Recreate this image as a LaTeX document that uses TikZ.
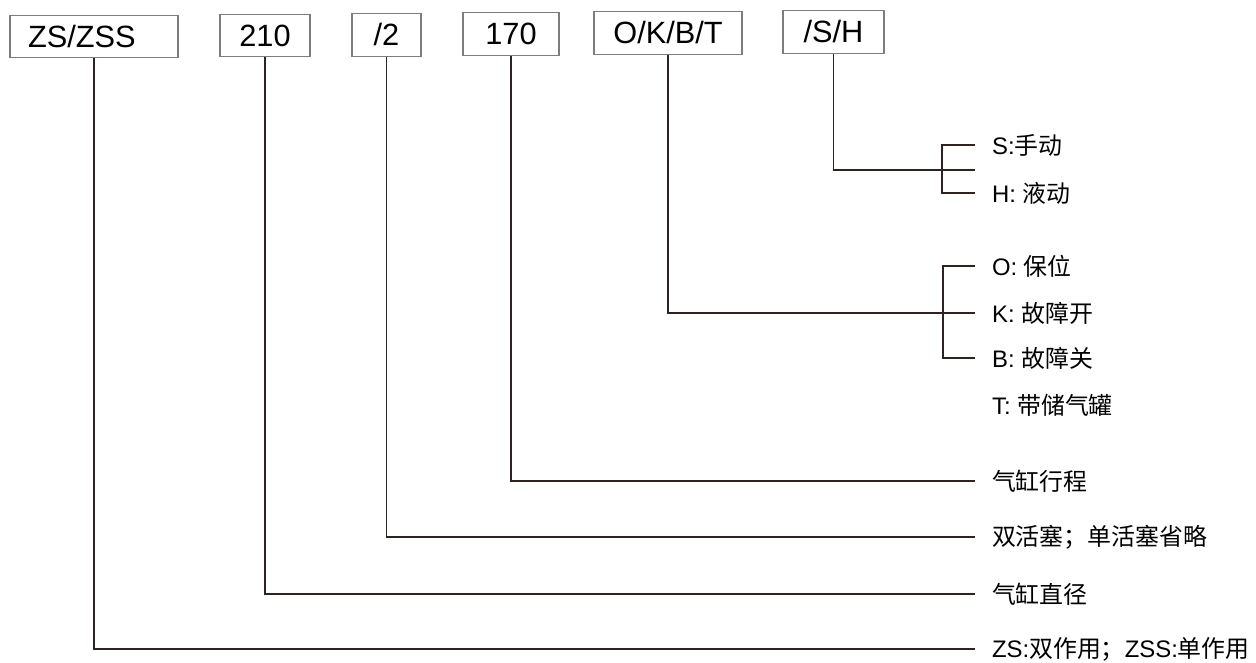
\documentclass[tikz,border=0pt]{standalone}
\usepackage{fontspec}
\setmainfont{Liberation Sans}
\newfontfamily\cjk{Noto Sans CJK SC}
\usetikzlibrary{positioning,calc}
\definecolor{xline}{RGB}{45,35,35}
\definecolor{xframe}{RGB}{125,125,125}

\begin{document}
\begin{tikzpicture}[
  box/.style={draw=xframe, line width=0.8pt, minimum height=0.85cm, inner sep=0pt,
              font=\fontsize{17.5}{20}\selectfont},
  conn/.style={draw=xline, line width=1.1pt},
  lbl/.style={anchor=west, inner xsep=9.5pt, inner ysep=0pt,
              font=\fontsize{13.6}{16}\selectfont}
]
  \useasboundingbox (0,0) rectangle (25.12,-13.26);

  % code boxes
  \node[box, minimum width=3.36cm, text width=2.64cm, align=left] (zs) at (1.88,-0.73) {ZS/ZSS};
  \node[box, minimum width=1.80cm] (dia)  at (5.30,-0.71)  {210};
  \node[box, minimum width=1.38cm] (pis)  at (7.73,-0.70)  {/2};
  \node[box, minimum width=1.92cm] (str)  at (10.22,-0.68) {170};
  \node[box, minimum width=2.96cm] (fail) at (13.36,-0.66) {O/K/B/T};
  \node[box, minimum width=2.02cm] (act)  at (16.67,-0.64) {/S/H};

  % explanations
  \node[lbl] (actS)  at (19.5,-2.90)  {S:{\cjk 手动}};
  \node[lbl] (actH)  at (19.5,-3.86)  {H: {\cjk 液动}};
  \node[lbl] (failO) at (19.5,-5.32)  {O: {\cjk 保位}};
  \node[lbl] (failK) at (19.5,-6.26)  {K: {\cjk 故障开}};
  \node[lbl] (failB) at (19.5,-7.16)  {B: {\cjk 故障关}};
  \node[lbl] (failT) at (19.5,-8.10)  {T: {\cjk 带储气罐}};
  \node[lbl] (strL)  at (19.5,-9.62)  {\cjk 气缸行程};
  \node[lbl] (pisL)  at (19.5,-10.74) {\cjk 双活塞；单活塞省略};
  \node[lbl] (diaL)  at (19.5,-11.88) {\cjk 气缸直径};
  \node[lbl] (zsL)   at (19.5,-12.98) {ZS:{\cjk 双作用；}ZSS:{\cjk 单作用}};

  \coordinate (actend) at (19.5,-3.40);
  \coordinate (actbr)  at (18.84,-3.40);
  \coordinate (failbr) at (18.86,-6.26);

  % leaders
  \draw[conn] (act.south) |- (actend);
  \draw[conn] (actS.west) -| (actbr) |- (actH.west);
  \draw[conn] (fail.south) |- (failK.west);
  \draw[conn] (failO.west) -| (failbr) |- (failB.west);
  \draw[conn] (str.south) |- (strL.west);
  \draw[conn] (pis.south) |- (pisL.west);
  \draw[conn] (dia.south) |- (diaL.west);
  \draw[conn] (zs.south)  |- (zsL.west);
\end{tikzpicture}
\end{document}
